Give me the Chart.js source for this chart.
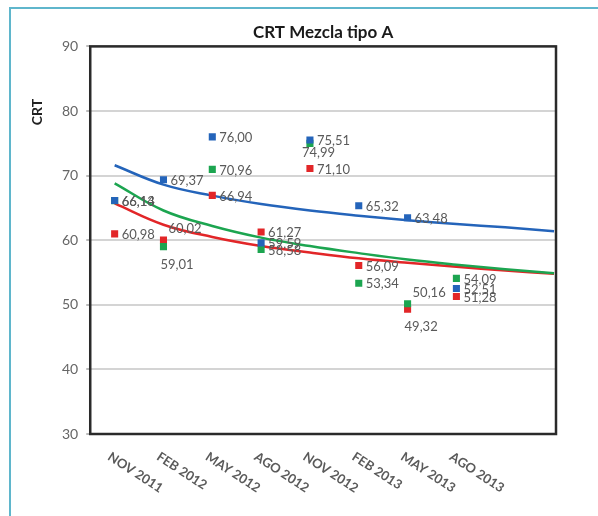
<!DOCTYPE html>
<html>
<head>
<meta charset="utf-8">
<script src="https://cdn.jsdelivr.net/npm/chart.js@4.4.1/dist/chart.umd.min.js"></script>
<style>
  html, body { margin: 0; padding: 0; background: #fff; }
  #marco { position: relative; width: 598px; height: 516px; }
  #borde { position: absolute; left: 9px; top: 7px; right: 0; bottom: 0;
           border-left: 2px solid #5fb6cc; border-top: 2px solid #5fb6cc; pointer-events: none; }
  canvas { position: absolute; left: 0; top: 0; }
</style>
</head>
<body>
<div id="marco">
  <canvas id="cvs_crt" width="598" height="516"></canvas>
  <div id="borde"></div>
</div>
<script>
// datos
const categorias = ["NOV 2011", "FEB 2012", "MAY 2012", "AGO 2012", "NOV 2012", "FEB 2013", "MAY 2013", "AGO 2013"];
const crtAzul  = [66.14, 69.37, 76.00, 59.59, 75.51, 65.32, 63.48, 52.51];
const crtVerde = [66.13, 59.01, 70.96, 58.58, 74.99, 53.34, 50.16, 54.09];
const crtRojo  = [60.98, 60.02, 66.94, 61.27, 71.10, 56.09, 49.32, 51.28];

// lineas de tendencia (incluye 2 periodos de pronostico)
const tendAzul  = [71.6, 68.6, 66.9, 65.6, 64.6, 63.8, 63.1, 62.5, 62.0, 61.4];
const tendVerde = [68.8, 64.6, 62.2, 60.4, 59.1, 58.0, 57.0, 56.2, 55.5, 54.9];
const tendRojo  = [65.7, 62.4, 60.5, 59.1, 58.1, 57.2, 56.5, 55.9, 55.3, 54.8];

const ejeY = [30, 40, 50, 60, 70, 80, 90];

const AZUL = "rgb(36, 100, 186)";
const VERDE = "rgb(28, 165, 80)";
const ROJO = "rgb(226, 38, 40)";

function puntos(arr) {
    return arr.map((v, i) => ({ x: i, y: v }));
}

// posicion de las etiquetas: r = derecha, b = abajo, u = arriba-derecha
const posEtiquetas = {
    0: ["r", "r", "r", "r", "r", "r", "r", "r"],
    1: ["r", "b", "r", "r", "bl", "r", "u", "r"],
    2: ["r", "u", "r", "r", "r", "r", "b", "r"]
};

const etiquetasPlugin = {
    id: "etiquetas",
    afterDatasetsDraw(chart) {
        const ctx = chart.ctx;
        ctx.save();
        ctx.font = "13px Lato";
        ctx.fillStyle = "#5a5a5a";
        ctx.textBaseline = "middle";
        [0, 1, 2].forEach(di => {
            const meta = chart.getDatasetMeta(di);
            meta.data.forEach((p, i) => {
                const txt = chart.data.datasets[di].data[i].y.toFixed(2).replace(".", ",");
                const pos = posEtiquetas[di][i];
                ctx.textAlign = "left";
                if (pos === "r") ctx.fillText(txt, p.x + 7, p.y + 1);
                else if (pos === "u") ctx.fillText(txt, p.x + 5, p.y - 11);
                else if (pos === "b") ctx.fillText(txt, p.x - 3, p.y + 18);
                else if (pos === "bl") ctx.fillText(txt, p.x - 8, p.y + 9);
            });
        });
        ctx.restore();
    }
};

const ejesPlugin = {
    id: "ejes",
    afterDraw(chart) {
        const { ctx, chartArea } = chart;
        const x = chart.scales.x;
        ctx.save();
        // marco del area de trazado
        ctx.strokeStyle = "#2a2a2a";
        ctx.lineWidth = 2.5;
        ctx.strokeRect(chartArea.left, chartArea.top, chartArea.right - chartArea.left, chartArea.bottom - chartArea.top);

        // etiquetas del eje x inclinadas hacia abajo
        ctx.fillStyle = "#5a5a5a";
        ctx.font = "bold 13px Lato";
        ctx.textAlign = "left";
        ctx.textBaseline = "top";
        categorias.forEach((c, i) => {
            ctx.save();
            ctx.translate(x.getPixelForValue(i) - 2, chartArea.bottom + 16);
            ctx.rotate(33 * Math.PI / 180);
            ctx.fillText(c, 0, 0);
            ctx.restore();
        });

        // titulo del eje y
        ctx.save();
        ctx.translate(37, 112);
        ctx.rotate(-Math.PI / 2);
        ctx.textAlign = "center";
        ctx.textBaseline = "middle";
        ctx.fillStyle = "#222";
        ctx.font = "bold 14px Lato";
        ctx.fillText("CRT", 0, 0);
        ctx.restore();
        ctx.restore();
    }
};

new Chart(document.getElementById("cvs_crt"), {
    type: "scatter",
    data: {
        datasets: [
            { label: "Azul", data: puntos(crtAzul), backgroundColor: AZUL, borderColor: AZUL, pointStyle: "rect", pointRadius: 5, borderWidth: 0 },
            { label: "Verde", data: puntos(crtVerde), backgroundColor: VERDE, borderColor: VERDE, pointStyle: "rect", pointRadius: 5, borderWidth: 0 },
            { label: "Rojo", data: puntos(crtRojo), backgroundColor: ROJO, borderColor: ROJO, pointStyle: "rect", pointRadius: 5, borderWidth: 0 },
            { type: "line", label: "Tend. azul", data: puntos(tendAzul), borderColor: AZUL, borderWidth: 2.5, pointRadius: 0, tension: 0.4, fill: false },
            { type: "line", label: "Tend. verde", data: puntos(tendVerde), borderColor: VERDE, borderWidth: 2.5, pointRadius: 0, tension: 0.4, fill: false },
            { type: "line", label: "Tend. rojo", data: puntos(tendRojo), borderColor: ROJO, borderWidth: 2.5, pointRadius: 0, tension: 0.4, fill: false }
        ]
    },
    options: {
        responsive: false,
        animation: false,
        layout: { padding: { left: 54, right: 42, top: 0, bottom: 82 } },
        plugins: {
            legend: { display: false },
            tooltip: { enabled: false },
            title: {
                display: true,
                fullSize: false,
                text: "CRT Mezcla tipo A",
                color: "#1a1a1a",
                font: { size: 17, weight: "bold", family: "Lato" },
                padding: { top: 22, bottom: 4 }
            }
        },
        scales: {
            x: {
                type: "linear",
                min: -0.5,
                max: 9.04,
                grid: { display: false, drawTicks: false },
                border: { display: false },
                ticks: { display: false }
            },
            y: {
                min: ejeY[0],
                max: ejeY[ejeY.length - 1],
                afterBuildTicks(axis) { axis.ticks = ejeY.map(v => ({ value: v })); },
                grid: { color: "#d4d4d4", lineWidth: 2, tickLength: 4, tickColor: "#bbb" },
                border: { display: false },
                ticks: { color: "#666", font: { size: 14, family: "Lato" }, padding: 8 }
            }
        }
    },
    plugins: [etiquetasPlugin, ejesPlugin]
});
</script>
</body>
</html>
